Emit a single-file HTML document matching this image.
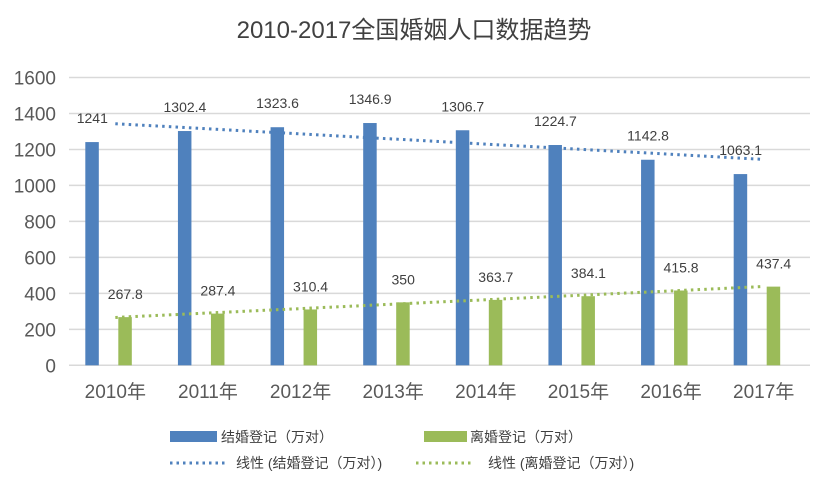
<!DOCTYPE html>
<html><head><meta charset="utf-8"><style>
body{margin:0;background:#fff;}
svg text{font-family:"Liberation Sans","Noto Sans CJK SC",sans-serif;}
</style></head><body>
<svg id="c" width="828" height="488" viewBox="0 0 828 488">
<text x="414" y="38" text-anchor="middle" font-size="24" fill="#404040">2010-2017全国婚姻人口数据趋势</text>
<g id="grid"></g><g id="bars"></g><g id="labels"></g>
<g>
<rect x="170" y="431" width="47" height="11" fill="#4f81bd"/>
<text x="221" y="442" font-size="14" fill="#404040">结婚登记（万对）</text>
<rect x="424" y="431" width="43" height="11" fill="#9bbb59"/>
<text x="470" y="442" font-size="14" fill="#404040">离婚登记（万对）</text>
<line x1="170" y1="463" x2="228" y2="463" stroke="#4f81bd" stroke-width="3" stroke-dasharray="2.5,4"/>
<text x="236" y="468" font-size="14" fill="#404040">线性 (结婚登记（万对）)</text>
<line x1="416" y1="463" x2="472" y2="463" stroke="#9bbb59" stroke-width="3" stroke-dasharray="2.5,4"/>
<text x="488" y="468" font-size="14" fill="#404040">线性 (离婚登记（万对）)</text>
</g>
</svg>
<script>
const categories=["2010年","2011年","2012年","2013年","2014年","2015年","2016年","2017年"];
const marriage=[1241,1302.4,1323.6,1346.9,1306.7,1224.7,1142.8,1063.1];
const divorce=[267.8,287.4,310.4,350,363.7,384.1,415.8,437.4];
const yTicks=[0,200,400,600,800,1000,1200,1400,1600];
const NS="http://www.w3.org/2000/svg";
const x0=69,x1=810,y0=365.3,yTop=77.5,yMax=1600;
const step=(x1-x0)/categories.length;
const y=v=>y0-(v/yMax)*(y0-yTop);
const cx=i=>x0+step*(i+0.5);
function mk(tag,attrs,parent,txt){const e=document.createElementNS(NS,tag);for(const k in attrs)e.setAttribute(k,attrs[k]);if(txt!==undefined)e.textContent=txt;document.getElementById(parent).appendChild(e);return e;}
yTicks.forEach(t=>{
 const l=mk('line',{x1:x0,x2:x1,y1:y(t),y2:y(t),stroke:'#d9d9d9','stroke-width':1.5},'grid');
 
 
 const tx=mk('text',{x:56,y:y(t)+7,'text-anchor':'end','font-size':19,fill:'#595959'},'grid',t);
 
 
});
categories.forEach((c,i)=>{
 const t=mk('text',{x:cx(i),y:398,'text-anchor':'middle','font-size':19,fill:'#595959'},'grid',c);
 
 
 const bm=mk('rect',{x:cx(i)-30,y:y(marriage[i]),width:13.5,height:y0-y(marriage[i]),fill:'#4f81bd'},'bars');
 
 
 const bd=mk('rect',{x:cx(i)+3,y:y(divorce[i]),width:13.5,height:y0-y(divorce[i]),fill:'#9bbb59'},'bars');
 
 
 const lm=mk('text',{x:cx(i)-23,y:y(marriage[i])-19,'text-anchor':'middle','font-size':14,fill:'#404040'},'labels',marriage[i]);
 
 
 const ld=mk('text',{x:cx(i)+10,y:y(divorce[i])-18,'text-anchor':'middle','font-size':14,fill:'#404040'},'labels',divorce[i]);
 
 
});
function trend(arr,color,name){
 const n=arr.length,mx=(n-1)/2,my=arr.reduce((a,b)=>a+b,0)/n;
 let sxy=0,sxx=0;arr.forEach((v,i)=>{sxy+=(i-mx)*(v-my);sxx+=(i-mx)*(i-mx);});
 const b=sxy/sxx,a=my-b*mx;
 const l=mk('line',{x1:cx(0),y1:y(a),x2:cx(n-1),y2:y(a+b*(n-1)),stroke:color,'stroke-width':3,'stroke-dasharray':'2.5,4.2'},'labels');
 
 
}
trend(marriage,'#4f81bd','trend-marriage');
trend(divorce,'#9bbb59','trend-divorce');
</script>
</body></html>
